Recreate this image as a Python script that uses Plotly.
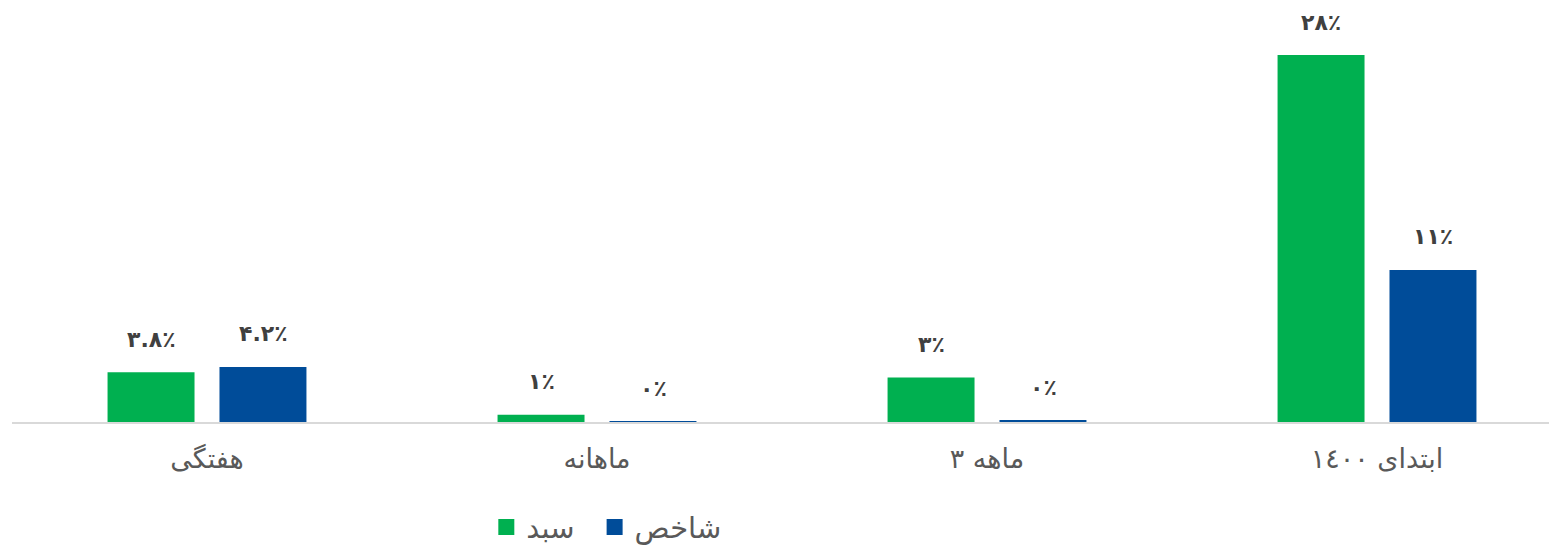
import plotly.graph_objects as go

categories = ["هفتگی", "ماهانه", "۳ ماهه", "ابتدای ١٤٠٠"]
series_names = ["سبد", "شاخص"]
basket_values = [3.8, 0.55, 3.4, 28.0]
index_values = [4.2, 0.05, 0.15, 11.6]
basket_labels = ["۳.۸٪", "۱٪", "۳٪", "۲۸٪"]
index_labels = ["۴.۲٪", "۰٪", "۰٪", "۱۱٪"]

GREEN = "#00B050"
BLUE = "#004C99"
FONT = "DejaVu Sans"

fig = go.Figure()
for name, vals, col in [(series_names[0], basket_values, GREEN), (series_names[1], index_values, BLUE)]:
    fig.add_trace(go.Bar(x=categories, y=vals, name=name, showlegend=False,
                         marker=dict(color=col, line=dict(width=0))))
# legend entries with larger square symbols (non-breaking padding widens the first entry)
legend_pad = ["\u00a0\u2009", ""]
for name, col, pad in [(series_names[0], GREEN, legend_pad[0]), (series_names[1], BLUE, legend_pad[1])]:
    fig.add_trace(go.Scatter(x=[None], y=[None], mode="markers", name=name + pad,
                             marker=dict(symbol="square", size=16, color=col)))

annotations = []
for vals, labs, shift in [(basket_values, basket_labels, -56), (index_values, index_labels, 56)]:
    for c, v, t in zip(categories, vals, labs):
        annotations.append(dict(x=c, y=v, xref="x", yref="y", text="<b>" + t + "</b>",
                                showarrow=False, xshift=shift, yshift=33,
                                yanchor="middle", xanchor="center",
                                font=dict(family=FONT, size=22, color="#404040")))

fig.update_layout(
    width=1541, height=537,
    margin=dict(l=4, r=0, t=0, b=123, autoexpand=False),
    paper_bgcolor="white", plot_bgcolor="white",
    barmode="group", bargap=0.426, bargroupgap=0.223,
    font=dict(family=FONT, color="#595959"),
    annotations=annotations,
    showlegend=True,
    legend=dict(orientation="h", x=0.3086, xanchor="left", y=-0.254, yanchor="middle",
                font=dict(family=FONT, size=29, color="#595959"),
                itemwidth=30, traceorder="normal"),
    xaxis=dict(range=[-0.5, 3.441], showline=True, linecolor="#D9D9D9", linewidth=1.5,
               showgrid=False, ticks="", tickfont=dict(family=FONT, size=27, color="#595959"),
               ticklabelstandoff=12),
    yaxis=dict(range=[0, 31.59], visible=False, showgrid=False, zeroline=False),
)

fig.write_html("out.html")
